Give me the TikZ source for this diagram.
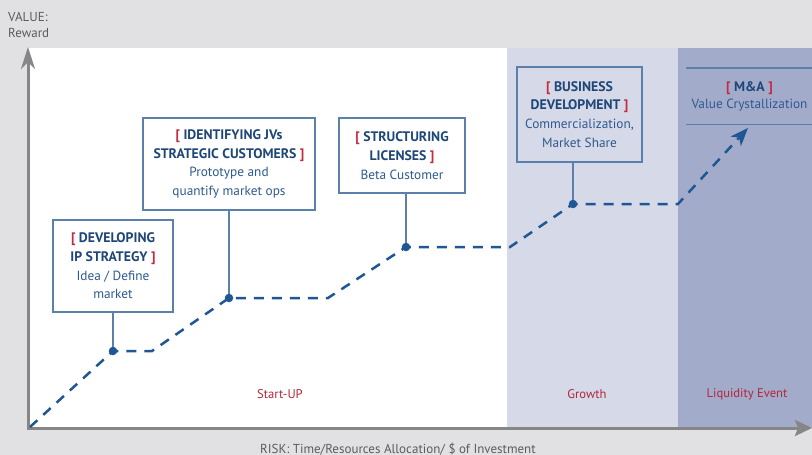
\documentclass[tikz,border=0pt]{standalone}
\usepackage{fontspec}
\setmainfont{PT Sans}
\usetikzlibrary{arrows.meta}

\definecolor{bggray}{HTML}{E1E1E3}
\definecolor{growthbg}{HTML}{D6D9E8}
\definecolor{liquidbg}{HTML}{A3ABCB}
\definecolor{axisgray}{HTML}{868686}
\definecolor{labelgray}{HTML}{5C5C5E}
\definecolor{dashblue}{HTML}{1F5694}
\definecolor{boxblue}{HTML}{5B80AC}
\definecolor{titleblue}{HTML}{1E4677}
\definecolor{textblue}{HTML}{2E5A8E}
\definecolor{brackred}{HTML}{C42A40}
\definecolor{stagered}{HTML}{B2263C}

\newcommand{\ttl}[1]{{\fontsize{13.8}{18.5}\selectfont\bfseries\color{titleblue}#1}}
\newcommand{\brk}[1]{{\color{brackred}#1}}

\begin{document}
\begin{tikzpicture}[x=1pt, y=-1pt,
    stagebox/.style={draw=boxblue, line width=1.2pt, align=center, text=textblue,
        inner sep=0pt, font=\fontsize{13.3}{18.7}\selectfont},
    boxline/.style={draw=boxblue, line width=1.2pt},
    stagelabel/.style={text=stagered, inner sep=0pt, font=\fontsize{12.6}{15}\selectfont},
    axislabel/.style={text=labelgray, anchor=base west, inner sep=0pt, font=\fontsize{13}{15}\selectfont},
    axisline/.style={draw=axisgray, line width=3pt},
    growline/.style={draw=dashblue, line width=2.5pt, dash pattern=on 10pt off 8pt},
    dot/.style={circle, fill=dashblue, inner sep=0pt, minimum size=8.5pt}]

    % background and phases
    \fill[bggray] (0,0) rectangle (812,455);
    \useasboundingbox (0,0) rectangle (812,455);
    \fill[white] (28,48) rectangle (507,428);
    \fill[growthbg] (507,48) rectangle (678,428);
    \fill[liquidbg] (678,48) rectangle (812,428);

    \node[stagelabel] (startup) at (280,394) {Start-UP};
    \node[stagelabel] (growth) at (587,394) {Growth};
    \node[stagelabel] (liquidity) at (747,394) {Liquidity Event};

    % axes
    \coordinate (origin) at (28,428);
    \coordinate (ytop) at (28,47);
    \coordinate (xend) at (812,428);
    \draw[axisline, -{Stealth[length=22pt, width=14pt, inset=7pt]}] (origin |- 0,429.5) -- (ytop);
    \draw[axisline, -{Stealth[length=17pt, width=16pt, inset=3pt]}] (26.5,428) -- (xend);
    \node[axislabel] (value) at (8,21) {VALUE:};
    \node[axislabel] (reward) at (8,37) {Reward};
    \node[axislabel] (risk) at (260,453) {RISK: Time/Resources Allocation/ \$ of Investment};

    % milestones
    \node[stagebox, fill=white, minimum width=120pt, minimum height=92pt] (develop) at (113,266)
        {\ttl{\brk{[} DEVELOPING}\\\ttl{IP STRATEGY \brk{]}}\\Idea / Define\\market};
    \node[stagebox, fill=white, minimum width=172pt, minimum height=92pt] (identify) at (229,164)
        {\ttl{\brk{[} IDENTIFYING JVs}\\\ttl{STRATEGIC CUSTOMERS \brk{]}}\\Prototype and\\quantify market ops};
    \node[stagebox, fill=white, minimum width=126pt, minimum height=75pt] (license) at (402,155.5)
        {\ttl{\brk{[} STRUCTURING}\\\ttl{LICENSES \brk{]}}\\Beta Customer};
    \node[stagebox, minimum width=125pt, minimum height=95pt] (business) at (579.5,114.5)
        {\ttl{\brk{[} BUSINESS}\\\ttl{DEVELOPMENT \brk{]}}\\Commercialization,\\Market Share};
    \node[stagebox, draw=none, minimum width=125pt, minimum height=55pt,
        font=\fontsize{13.3}{17}\selectfont] (merger) at (749.5,96)
        {\ttl{\brk{[} M\&A \brk{]}}\\Value Crystallization};
    \draw[boxline] (merger.north west) -- (merger.north east);
    \draw[boxline] (merger.south west) -- (merger.south east);

    % growth path
    \coordinate (start) at (30,427);
    \node[dot] (d1) at (113,351) {};
    \coordinate (k1) at (152,351);
    \node[dot] (d2) at (229,298) {};
    \coordinate (k2) at (328,298);
    \node[dot] (d3) at (406,247) {};
    \coordinate (k3) at (510,247);
    \node[dot] (d4) at (573,204) {};
    \coordinate (k4) at (678,204);
    \coordinate (tip) at (748,128);
    \draw[growline, -{Stealth[length=18pt, width=14pt, inset=5pt, sep=0pt]}]
        (start) -- (d1.center) -- (k1) -- (d2.center) -- (k2) -- (d3.center)
        -- (k3) -- (d4.center) -- (k4) -- (tip);

    \draw[boxline] (d1) -- (develop.south);
    \draw[boxline] (d2) -- (d2 |- identify.south);
    \draw[boxline] (d3) -- (d3 |- license.south);
    \draw[boxline] (d4) -- (d4 |- business.south);
\end{tikzpicture}
\end{document}
